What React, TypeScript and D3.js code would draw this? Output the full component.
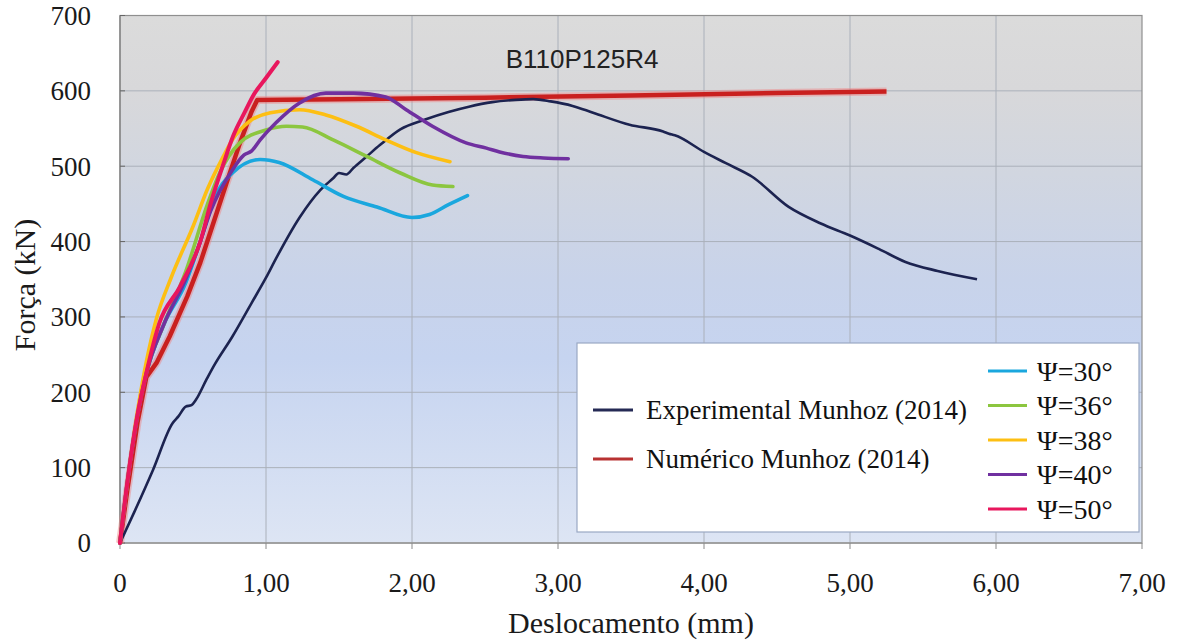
import React from "react";
import * as d3 from "d3";

const chartTitle = "B110P125R4";
const xTicks = [0, 1, 2, 3, 4, 5, 6, 7];
const yTicks = [0, 100, 200, 300, 400, 500, 600, 700];

const dispExp = [0, 0.1, 0.226, 0.36, 0.4, 0.45, 0.49, 0.52, 0.59, 0.64, 0.77, 0.9, 1.0, 1.07, 1.23, 1.37, 1.46, 1.5, 1.55, 1.6, 1.69, 1.78, 1.92, 2.09, 2.25, 2.39, 2.55, 2.71, 2.83, 2.95, 3.1, 3.24, 3.49, 3.72, 3.76, 3.8, 4.0, 4.15, 4.33, 4.58, 4.8, 5.0, 5.2, 5.38, 5.6, 5.87];
const forceExp = [0, 42, 97, 159, 168, 181, 183, 190, 216, 234, 274, 318, 352, 378, 432, 468, 484, 491, 489, 498, 513, 528, 549, 562, 572, 579, 585, 588, 589, 586, 580, 571, 555, 546, 543, 541, 519, 504, 486, 446, 424, 408, 390, 373, 361, 350];

const dispNum = [0, 0.05, 0.12, 0.18, 0.25, 0.34, 0.46, 0.55, 0.64, 0.73, 0.82, 0.9, 0.94, 1.5, 2.5, 3.5, 4.5, 5.25];
const forceNum = [0, 70, 160, 220, 239, 274, 327, 372, 425, 478, 530, 572, 588, 589, 591, 594, 597, 599];

const disp30 = [0, 0.05, 0.12, 0.18, 0.3, 0.45, 0.55, 0.64, 0.77, 0.96, 1.09, 1.32, 1.53, 1.76, 2.0, 2.12, 2.25, 2.38];
const force30 = [0, 80, 170, 225, 290, 345, 400, 455, 491, 509, 505, 482, 460, 446, 432, 436, 449, 461];

const disp36 = [0, 0.05, 0.12, 0.18, 0.3, 0.45, 0.6, 0.68, 0.82, 1.0, 1.14, 1.25, 1.46, 1.69, 1.92, 2.14, 2.28];
const force36 = [0, 80, 170, 225, 290, 360, 450, 490, 531, 548, 553, 552, 535, 513, 491, 475, 473];

const disp38 = [0, 0.05, 0.12, 0.18, 0.25, 0.35, 0.5, 0.6, 0.7, 0.77, 0.89, 1.03, 1.23, 1.41, 1.62, 1.82, 2.03, 2.26];
const force38 = [0, 80, 175, 240, 298, 352, 420, 470, 510, 535, 560, 571, 575, 568, 553, 535, 518, 506];

const disp40 = [0, 0.05, 0.12, 0.18, 0.3, 0.45, 0.55, 0.62, 0.77, 0.85, 0.9, 0.96, 1.07, 1.23, 1.41, 1.6, 1.82, 1.96, 2.14, 2.37, 2.51, 2.6, 2.76, 2.9, 3.07];
const force40 = [0, 80, 170, 225, 290, 350, 400, 440, 495, 515, 520, 535, 558, 584, 597, 597, 592, 575, 553, 531, 524, 519, 513, 511, 510];

const disp50 = [0, 0.05, 0.12, 0.18, 0.27, 0.41, 0.55, 0.62, 0.71, 0.775, 0.85, 0.91, 1.0, 1.08];
const force50 = [0, 80, 170, 225, 292, 340, 400, 450, 504, 540, 570, 593, 617, 638];

const psiLabels = ["Ψ=30°", "Ψ=36°", "Ψ=38°", "Ψ=40°", "Ψ=50°"];
const psiColors = ["#1aa7de", "#8cc63f", "#fdbf13", "#7030a0", "#e8175d"];
const refLabels = ["Experimental Munhoz (2014)", "Numérico Munhoz (2014)"];
const refColors = ["#1c2350", "#c9201f"];

const W = 1179;
const H = 644;
const L = 120, R = 1142, T = 15.5, B = 543;

export default function App() {
  const x = d3.scaleLinear().domain([0, 7]).range([L, R]);
  const y = d3.scaleLinear().domain([0, 700]).range([B, T]);
  const mk = (xs: number[], ys: number[]) => xs.map((d, i) => [d, ys[i]] as [number, number]);
  const lineS = d3.line<[number, number]>().x(d => x(d[0])).y(d => y(d[1])).curve(d3.curveMonotoneX);
  const lineL = d3.line<[number, number]>().x(d => x(d[0])).y(d => y(d[1]));

  const psiData = [mk(disp30, force30), mk(disp36, force36), mk(disp38, force38), mk(disp40, force40), mk(disp50, force50)];
  const serif = "'Liberation Serif', 'Times New Roman', serif";
  const fmtX = (d: number) => (d === 0 ? "0" : d.toFixed(2).replace(".", ","));

  return (
    <div style={{ position: "absolute", left: 0, top: 0, width: W, height: H, background: "#fff" }}>
      <svg width={W} height={H} style={{ display: "block" }}>
        <defs>
          <linearGradient id="bg" x1="0" y1="0" x2="0" y2="1">
            <stop offset="0" stopColor="#dbdbdb" />
            <stop offset="0.14" stopColor="#d8d8da" />
            <stop offset="0.3" stopColor="#d1d6e0" />
            <stop offset="0.5" stopColor="#c8d3ea" />
            <stop offset="0.65" stopColor="#c6d4f0" />
            <stop offset="1" stopColor="#dde5f4" />
          </linearGradient>
        </defs>
        <rect x={L} y={T} width={R - L} height={B - T} fill="url(#bg)" />
        {xTicks.slice(1, -1).map(t => (
          <line key={"gx" + t} x1={x(t)} x2={x(t)} y1={T} y2={B} stroke="#aab0ba" strokeWidth={1} />
        ))}
        {yTicks.slice(1, -1).map(t => (
          <line key={"gy" + t} x1={L} x2={R} y1={y(t)} y2={y(t)} stroke="#aab0ba" strokeWidth={1} />
        ))}
        <rect x={L} y={T} width={R - L} height={B - T} fill="none" stroke="#8f8f8f" strokeWidth={1.2} />
        <line x1={L} x2={L} y1={T} y2={B} stroke="#8a8a8a" strokeWidth={1.5} />
        <line x1={L} x2={R} y1={B} y2={B} stroke="#9a9a9a" strokeWidth={1.5} />
        {xTicks.map(t => (
          <line key={"tx" + t} x1={x(t)} x2={x(t)} y1={B} y2={B + 6} stroke="#8a8a8a" strokeWidth={1} />
        ))}
        {yTicks.map(t => (
          <line key={"ty" + t} x1={L} x2={L + 5} y1={y(t)} y2={y(t)} stroke="#666" strokeWidth={1} />
        ))}

        <text x={582} y={59} textAnchor="middle" dominantBaseline="central" fontFamily="'Liberation Sans', Arial, sans-serif" fontSize={26} fill="#222">{chartTitle}</text>

        <rect x={577} y={343} width={562} height={189} fill="#ffffff" stroke="#9aa8c4" strokeWidth={1.2} />

        <path d={lineL(mk(dispNum, forceNum)) || ""} fill="none" stroke="#f08080" strokeOpacity={0.45} strokeWidth={8} strokeLinejoin="round" />
        <path d={lineL(mk(dispNum, forceNum)) || ""} fill="none" stroke={refColors[1]} strokeWidth={4.5} strokeLinejoin="round" />
        <path d={lineS(mk(dispExp, forceExp)) || ""} fill="none" stroke={refColors[0]} strokeWidth={2.6} strokeLinejoin="round" />
        {psiData.map((d, i) => (
          <path key={"p" + i} d={lineS(d) || ""} fill="none" stroke={psiColors[i]} strokeWidth={i === 4 ? 4 : 3.6} strokeLinejoin="round" strokeLinecap="round" />
        ))}

        {refLabels.map((lab, i) => (
          <g key={"rl" + i}>
            <line x1={593} x2={633} y1={410 + i * 49} y2={410 + i * 49} stroke={i === 0 ? "#252a55" : "#b83232"} strokeWidth={3} />
            <text x={646} y={410 + i * 49} dy="0.35em" fontFamily={serif} fontSize={27} fill="#111">{lab}</text>
          </g>
        ))}
        {psiLabels.map((lab, i) => (
          <g key={"pl" + i}>
            <line x1={988} x2={1027} y1={371 + i * 34.5} y2={371 + i * 34.5} stroke={psiColors[i]} strokeWidth={3} />
            <text x={1037} y={371 + i * 34.5} dy="0.35em" fontFamily={serif} fontSize={28} fill="#111">{lab}</text>
          </g>
        ))}

        {xTicks.map(t => (
          <text key={"lx" + t} x={x(t)} y={592} textAnchor="middle" fontFamily={serif} fontSize={27} fill="#1a1a1a">{fmtX(t)}</text>
        ))}
        {yTicks.map(t => (
          <text key={"ly" + t} x={91} y={y(t)} dy="0.35em" textAnchor="end" fontFamily={serif} fontSize={27} fill="#1a1a1a">{t}</text>
        ))}
        <text x={631} y={633} textAnchor="middle" fontFamily={serif} fontSize={30} fill="#1a1a1a">Deslocamento (mm)</text>
        <text transform="translate(35,285) rotate(-90)" textAnchor="middle" fontFamily={serif} fontSize={30} fill="#1a1a1a">Força (kN)</text>
      </svg>
    </div>
  );
}
